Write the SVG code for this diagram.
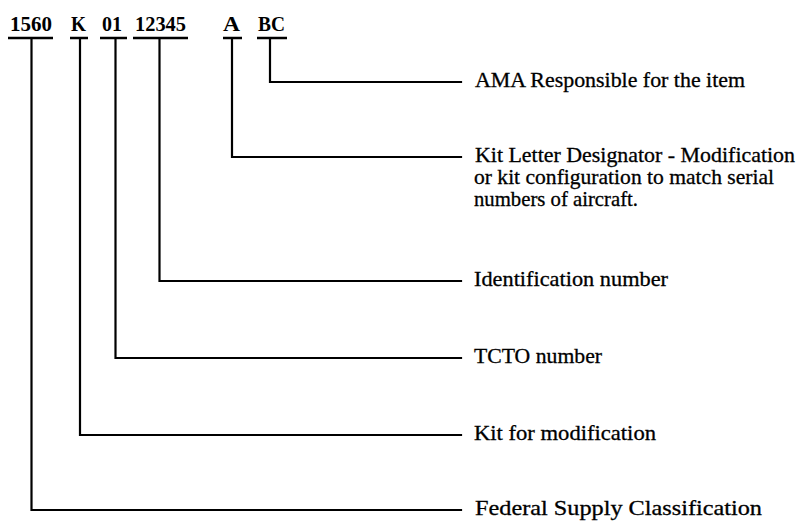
<svg xmlns="http://www.w3.org/2000/svg" width="799" height="521" viewBox="0 0 799 521">
<style>
.code{font-family:"Liberation Serif","Times New Roman",serif;font-size:20px;font-weight:bold;fill:#000}
.desc{font-family:"Liberation Serif","Times New Roman",serif;font-size:21px;fill:#000;stroke:#000;stroke-width:0.3}
.ul{stroke:#000;stroke-width:2.5;fill:none}
.ln{stroke:#000;stroke-width:2.2;fill:none;stroke-linejoin:miter;stroke-linecap:square}
</style>
<rect width="799" height="521" fill="#fff"/>
<g id="code-fields">
<g id="f1560"><text class="code" x="10" y="31" textLength="42" lengthAdjust="spacingAndGlyphs">1560</text><line class="ul" x1="8" y1="38" x2="53" y2="38"/></g>
<g id="fK"><text class="code" x="71" y="31" textLength="15" lengthAdjust="spacingAndGlyphs">K</text><line class="ul" x1="70" y1="38" x2="88" y2="38"/></g>
<g id="f01"><text class="code" x="102" y="31" textLength="20" lengthAdjust="spacingAndGlyphs">01</text><line class="ul" x1="100" y1="38" x2="127" y2="38"/></g>
<g id="f12345"><text class="code" x="135" y="31" textLength="51" lengthAdjust="spacingAndGlyphs">12345</text><line class="ul" x1="133" y1="38" x2="188" y2="38"/></g>
<g id="fA"><text class="code" x="223" y="31" textLength="17" lengthAdjust="spacingAndGlyphs">A</text><line class="ul" x1="223" y1="38" x2="242" y2="38"/></g>
<g id="fBC"><text class="code" x="258" y="31" textLength="27" lengthAdjust="spacingAndGlyphs">BC</text><line class="ul" x1="257" y1="38" x2="287" y2="38"/></g>
</g>
<g id="connectors">
<polyline class="ln" points="270,38 270,82 461,82"/>
<polyline class="ln" points="232,38 232,157 461,157"/>
<polyline class="ln" points="159.5,38 159.5,281 461,281"/>
<polyline class="ln" points="115.5,38 115.5,358 461,358"/>
<polyline class="ln" points="80,38 80,435 461,435"/>
<polyline class="ln" points="31.5,38 31.5,510 461,510"/>
</g>
<g id="labels">
<g id="l-ama"><text class="desc" x="475" y="87" textLength="270" lengthAdjust="spacingAndGlyphs">AMA Responsible for the item</text></g>
<g id="l-kitletter">
<text class="desc" x="475" y="162" textLength="320" lengthAdjust="spacingAndGlyphs">Kit Letter Designator - Modification</text>
<text class="desc" x="474" y="184" textLength="300" lengthAdjust="spacingAndGlyphs">or kit configuration to match serial</text>
<text class="desc" x="474" y="206" textLength="164" lengthAdjust="spacingAndGlyphs">numbers of aircraft.</text>
</g>
<g id="l-ident"><text class="desc" x="474" y="286" textLength="194" lengthAdjust="spacingAndGlyphs">Identification number</text></g>
<g id="l-tcto"><text class="desc" x="474" y="363" textLength="128" lengthAdjust="spacingAndGlyphs">TCTO number</text></g>
<g id="l-kitfor"><text class="desc" x="474" y="440" textLength="182" lengthAdjust="spacingAndGlyphs">Kit for modification</text></g>
<g id="l-fsc"><text class="desc" x="475" y="515" textLength="287" lengthAdjust="spacingAndGlyphs">Federal Supply Classification</text></g>
</g>
</svg>
